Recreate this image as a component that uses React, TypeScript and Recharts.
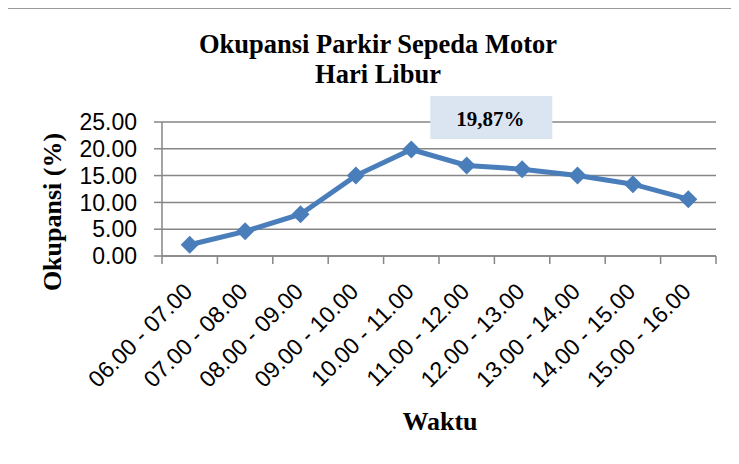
import React from "react";
import { LineChart, Line, XAxis, YAxis, CartesianGrid, LabelList } from "recharts";

const waktu = [
  "06.00 - 07.00",
  "07.00 - 08.00",
  "08.00 - 09.00",
  "09.00 - 10.00",
  "10.00 - 11.00",
  "11.00 - 12.00",
  "12.00 - 13.00",
  "13.00 - 14.00",
  "14.00 - 15.00",
  "15.00 - 16.00",
];
const okupansi = [2.1, 4.6, 7.8, 15.0, 19.87, 16.9, 16.2, 15.0, 13.4, 10.6];
const yTicks = [0, 5, 10, 15, 20, 25];

const data = waktu.map((w, i) => ({ waktu: w, okupansi: okupansi[i] }));
const peakIdx = okupansi.indexOf(Math.max(...okupansi));

const W = 739;
const H = 464;
const PLOT_LEFT = 162;
const PLOT_RIGHT = 716;
const PLOT_TOP = 122;
const PLOT_BOTTOM = 256;
const halfBand = (PLOT_RIGHT - PLOT_LEFT) / waktu.length / 2;

const GRID = "#868686";
const BLUE = "#4a7ebb";
const SERIF = "'Liberation Serif', 'Times New Roman', serif";
const SANS = "'Liberation Sans', Arial, sans-serif";

const XTick = ({ x, y, payload, index }: any) => (
  <g>
    <line x1={x - halfBand} x2={x - halfBand} y1={y} y2={y + 8} stroke={GRID} strokeWidth={1.5} />
    {index === waktu.length - 1 && (
      <line x1={x + halfBand} x2={x + halfBand} y1={y} y2={y + 8} stroke={GRID} strokeWidth={1.5} />
    )}
    <text
      x={x + 4}
      y={y + 37}
      textAnchor="end"
      transform={`rotate(-45, ${x + 4}, ${y + 37})`}
      fontFamily={SANS}
      fontSize={23}
      fill="#000"
    >
      {payload.value}
    </text>
  </g>
);

const Diamond = ({ cx, cy }: any) => {
  if (cx == null || cy == null) return null;
  const r = 9;
  return (
    <polygon
      points={`${cx},${cy - r} ${cx + r},${cy} ${cx},${cy + r} ${cx - r},${cy}`}
      fill={BLUE}
    />
  );
};

const PeakLabel = ({ x, y, value, index }: any) => {
  if (index !== peakIdx) return null;
  const txt = Number(value).toFixed(2).replace(".", ",") + "%";
  return (
    <g>
      <rect x={x + 19} y={y - 53.5} width={122} height={43} fill="#dbe5f1" />
      <text x={x + 79} y={y - 23.5} textAnchor="middle" fontFamily={SERIF} fontWeight="bold" fontSize={21} fill="#000">
        {txt}
      </text>
    </g>
  );
};

export default function App() {
  return (
    <div style={{ position: "relative", width: W, height: H, margin: -8, overflow: "hidden", background: "#fff" }}>
      <div
        style={{
          position: "absolute",
          left: 3,
          top: 7,
          width: 800,
          height: 600,
          borderTop: `2px solid #999`,
          borderLeft: `2px solid #999`,
        }}
      />
      <div
        style={{
          position: "absolute",
          left: 0,
          top: 29,
          width: 756,
          textAlign: "center",
          fontFamily: SERIF,
          fontWeight: "bold",
          fontSize: 26.5,
          lineHeight: "30px",
          color: "#000",
        }}
      >
        Okupansi Parkir Sepeda Motor
        <br />
        Hari Libur
      </div>
      <div style={{ position: "absolute", left: 0, top: 0 }}>
        <LineChart
          width={W}
          height={H}
          data={data}
          margin={{ top: PLOT_TOP, right: W - PLOT_RIGHT, left: 0, bottom: 0 }}
        >
          <CartesianGrid vertical={false} stroke={GRID} strokeWidth={1.5} />
          <XAxis
            dataKey="waktu"
            height={H - PLOT_BOTTOM}
            interval={0}
            padding={{ left: halfBand, right: halfBand }}
            tickLine={false}
            tickSize={0}
            tickMargin={0}
            axisLine={{ stroke: GRID, strokeWidth: 1.5 }}
            tick={<XTick />}
          />
          <YAxis
            width={PLOT_LEFT}
            domain={[0, 25]}
            ticks={yTicks}
            interval={0}
            tickFormatter={(v: number) => v.toFixed(2)}
            tickSize={8}
            tickMargin={17}
            tickLine={{ stroke: GRID, strokeWidth: 1.5 }}
            axisLine={{ stroke: GRID, strokeWidth: 1.5 }}
            tick={{ fill: "#000", fontSize: 23, fontFamily: SANS }}
          />
          <Line
            type="linear"
            dataKey="okupansi"
            stroke={BLUE}
            strokeWidth={5}
            dot={<Diamond />}
            activeDot={false}
            isAnimationActive={false}
          >
            <LabelList dataKey="okupansi" content={<PeakLabel />} />
          </Line>
        </LineChart>
      </div>
      <svg width={W} height={H} style={{ position: "absolute", left: 0, top: 0, pointerEvents: "none" }}>
        <text
          x={61}
          y={212}
          textAnchor="middle"
          transform="rotate(-90, 61, 212)"
          fontFamily={SERIF}
          fontWeight="bold"
          fontSize={26}
          fill="#000"
        >
          Okupansi (%)
        </text>
        <text x={440} y={430} textAnchor="middle" fontFamily={SERIF} fontWeight="bold" fontSize={26} fill="#000">
          Waktu
        </text>
      </svg>
    </div>
  );
}
